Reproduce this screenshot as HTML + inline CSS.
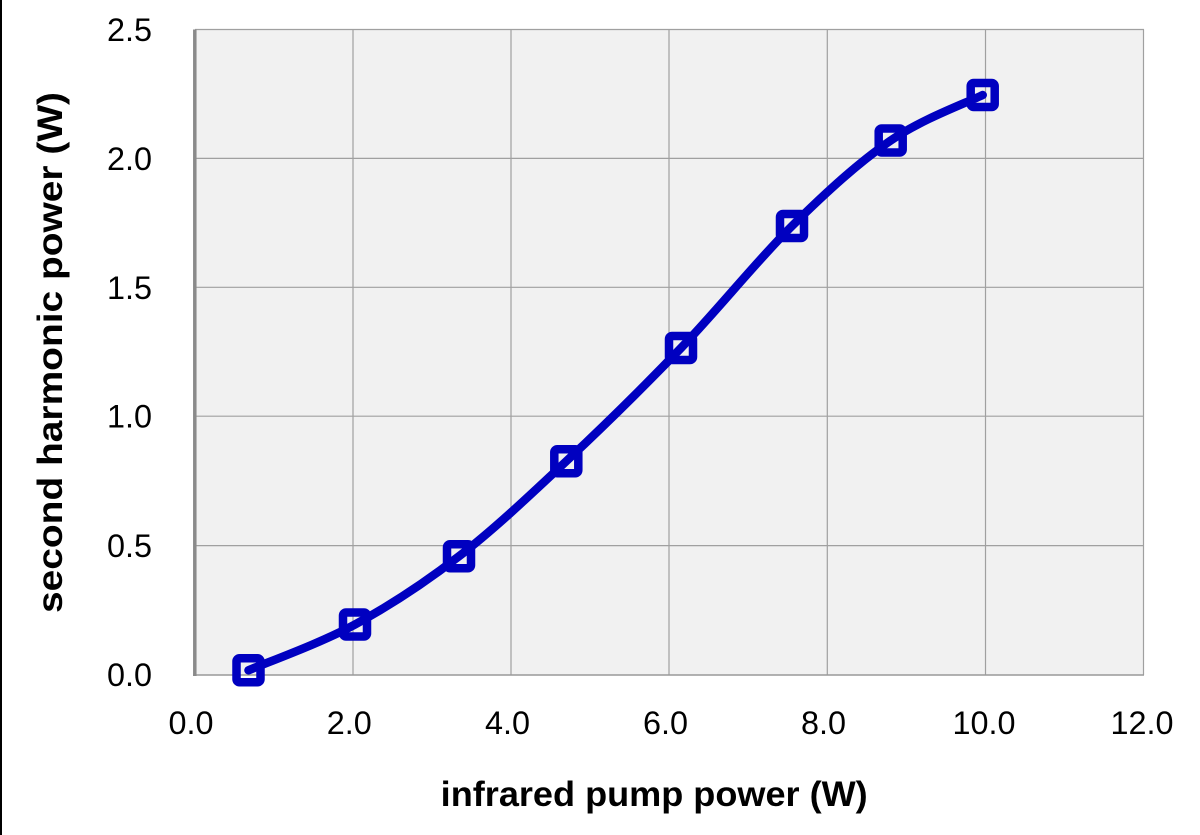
<!DOCTYPE html>
<html><head><meta charset="utf-8"><style>
html,body{margin:0;padding:0;background:#fff;}
svg{display:block;}
text{font-family:"Liberation Sans",sans-serif;fill:#000;}
</style></head><body>
<svg width="1200" height="835" viewBox="0 0 1200 835" xmlns="http://www.w3.org/2000/svg">
<rect x="0" y="0" width="1200" height="835" fill="#fff"/>
<rect x="0" y="0" width="2" height="835" fill="#000"/>
<!-- plot area -->
<rect x="195" y="29.5" width="949" height="645.5" fill="#F1F1F1"/>
<g stroke="#A0A0A0" stroke-width="1.2" fill="none">
<line x1="195" y1="29.5" x2="1144" y2="29.5"/>
<line x1="195" y1="158.4" x2="1144" y2="158.4"/>
<line x1="195" y1="287.3" x2="1144" y2="287.3"/>
<line x1="195" y1="416.2" x2="1144" y2="416.2"/>
<line x1="195" y1="545.6" x2="1144" y2="545.6"/>
<line x1="353" y1="29.5" x2="353" y2="675"/>
<line x1="511" y1="29.5" x2="511" y2="675"/>
<line x1="669" y1="29.5" x2="669" y2="675"/>
<line x1="827.3" y1="29.5" x2="827.3" y2="675"/>
<line x1="985.5" y1="29.5" x2="985.5" y2="675"/>
<line x1="1143.5" y1="29.5" x2="1143.5" y2="675"/>
</g>
<line x1="193" y1="675" x2="1144" y2="675" stroke="#999" stroke-width="1.6"/>
<line x1="194.8" y1="29.5" x2="194.8" y2="676" stroke="#8A8A8A" stroke-width="3.5"/>
<!-- series -->
<path d="M248.5,670.3 C266.25,662.67 319.92,643.5 355,624.5 C390.08,605.5 423.78,583.52 459,556.3 C494.22,529.08 529.3,495.92 566.3,461.2 C603.3,426.48 643.38,387.2 681,348 C718.62,308.8 757.05,260.58 792,226 C826.95,191.42 858.92,162.33 890.7,140.5 C922.48,118.67 967.37,102.58 982.7,95" fill="none" stroke="#0000C0" stroke-width="8.5" stroke-linecap="round" stroke-linejoin="round"/>
<g fill="none" stroke="#0000C0" stroke-width="8.5">
<rect x="236.5" y="658.3" width="24" height="24" rx="3"/>
<rect x="343" y="612.5" width="24" height="24" rx="3"/>
<rect x="447" y="544.3" width="24" height="24" rx="3"/>
<rect x="554.3" y="449.2" width="24" height="24" rx="3"/>
<rect x="669" y="336" width="24" height="24" rx="3"/>
<rect x="780" y="214" width="24" height="24" rx="3"/>
<rect x="878.7" y="128.5" width="24" height="24" rx="3"/>
<rect x="970.7" y="83" width="24" height="24" rx="3"/>
</g>
<!-- y tick labels -->
<g font-size="32" text-anchor="end">
<text x="152" y="41" textLength="45" lengthAdjust="spacingAndGlyphs">2.5</text>
<text x="152" y="169.9" textLength="45" lengthAdjust="spacingAndGlyphs">2.0</text>
<text x="152" y="298.8" textLength="45" lengthAdjust="spacingAndGlyphs">1.5</text>
<text x="152" y="427.7" textLength="45" lengthAdjust="spacingAndGlyphs">1.0</text>
<text x="152" y="557.1" textLength="45" lengthAdjust="spacingAndGlyphs">0.5</text>
<text x="152" y="686" textLength="45" lengthAdjust="spacingAndGlyphs">0.0</text>
</g>
<!-- x tick labels -->
<g font-size="32" text-anchor="middle">
<text x="191" y="734" textLength="45" lengthAdjust="spacingAndGlyphs">0.0</text>
<text x="349.3" y="734" textLength="45" lengthAdjust="spacingAndGlyphs">2.0</text>
<text x="507.5" y="734" textLength="45" lengthAdjust="spacingAndGlyphs">4.0</text>
<text x="665.5" y="734" textLength="45" lengthAdjust="spacingAndGlyphs">6.0</text>
<text x="823.5" y="734" textLength="45" lengthAdjust="spacingAndGlyphs">8.0</text>
<text x="984" y="734" textLength="63" lengthAdjust="spacingAndGlyphs">10.0</text>
<text x="1142" y="734" textLength="63" lengthAdjust="spacingAndGlyphs">12.0</text>
</g>
<!-- axis titles -->
<text x="440.7" y="806" font-size="35" font-weight="bold" textLength="427" lengthAdjust="spacingAndGlyphs">infrared pump power (W)</text>
<text transform="translate(62,613) rotate(-90)" x="0" y="0" font-size="35" font-weight="bold" textLength="521" lengthAdjust="spacingAndGlyphs">second harmonic power (W)</text>
</svg>
</body></html>
